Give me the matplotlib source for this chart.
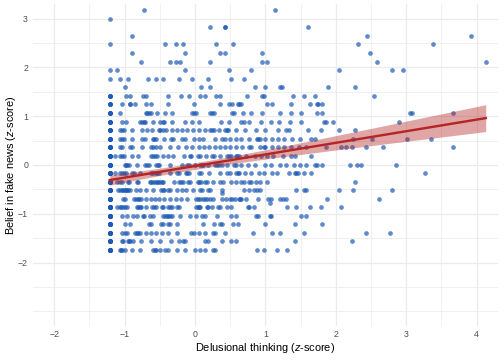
import numpy as np
import matplotlib.pyplot as plt

plt.rcParams['font.family'] = ['Liberation Sans', 'DejaVu Sans']
plt.rcParams['mathtext.fontset'] = 'custom'
plt.rcParams['mathtext.rm'] = 'Liberation Sans'
plt.rcParams['mathtext.it'] = 'Liberation Sans:italic'

# belief in fake news takes discrete z-score levels; x values read per level
levels = [3.17, 2.99, 2.82, 2.64, 2.47, 2.29, 2.12, 1.94, 1.77, 1.59,
          1.42, 1.24, 1.07, 0.89, 0.72, 0.54, 0.36, 0.19, 0.01, -0.16,
          -0.34, -0.51, -0.69, -0.86, -1.04, -1.21, -1.39, -1.56, -1.74]

delusion_by_level = [
    [-0.72, 1.14],
    [-1.21],
    [0.22, 0.43, 0.43, 1.60],
    [-0.90, 2.44, 3.92],
    [-1.21, -0.43, -0.27, -0.17, 0.30, 0.54, 2.31, 3.38],
    [-0.90, -0.14, 0.35, 0.43, 0.95, 2.49],
    [-0.77, -0.36, -0.27, -0.21, 0.22, 0.95, 1.03, 2.59, 4.13],
    [-1.21, -1.11, -0.14, 0.48, 0.80, 2.05, 2.80, 2.96],
    [-1.21, -1.06, -0.95, -0.67, -0.56, -0.46, -0.22, -0.04, 0.19, 0.51, 0.69],
    [-1.00, 0.09, 0.22, 0.85, 1.00, 1.21, 1.24, 1.89, 2.28],
    [-1.21, -1.21, -0.98, -0.92, -0.74, -0.69, -0.38, -0.20, -0.09, 0.07,
     0.14, 0.30, 0.35, 0.74, 0.95, 0.98, 1.39, 1.55, 1.70, 2.54],
    [-1.21, -1.21, -1.03, -0.92, -0.92, -0.85, -0.70, -0.62, -0.38, -0.01,
     0.36, 0.49, 0.53, 0.61, 0.63, 0.66, 1.03, 1.10, 1.36, 1.63, 1.73, 1.75, 1.81],
    [-1.21, -1.21, -1.06, -0.70, -0.68, -0.65, -0.63, -0.54, -0.43, -0.33,
     -0.04, -0.01, 0.01, 0.21, 0.24, 0.27, 0.53, 0.56, 0.68, 0.80, 0.95,
     1.21, 1.36, 1.50, 1.73, 1.81, 3.06, 3.08, 3.66],
    [-1.21, -1.21, -1.03, -0.98, -0.78, -0.75, -0.73, -0.71, -0.59, -0.49,
     -0.46, -0.44, -0.33, -0.14, -0.04, 0.06, 0.37, 0.48, 0.66, 0.69, 0.77,
     0.94, 1.08, 1.20, 1.35, 1.51, 1.83, 1.86, 1.96, 2.90],
    [-1.21, -1.21, -1.06, -1.03, -1.01, -0.90, -0.75, -0.68, -0.61, -0.51,
     -0.49, -0.46, -0.41, -0.33, -0.26, -0.18, -0.11, -0.03, 0.06, 0.14,
     0.22, 0.24, 0.27, 0.34, 0.42, 0.45, 0.47, 0.59, 0.71, 0.87, 0.99, 1.18,
     1.30, 1.33, 1.60, 1.79, 2.04, 2.28],
    [-1.21, -1.21, -1.06, -1.03, -1.01, -0.90, -0.75, -0.71, -0.60, -0.58,
     -0.55, -0.44, -0.34, -0.31, -0.19, -0.14, -0.02, 0.06, 0.12, 0.29, 0.39,
     0.42, 0.50, 0.58, 0.65, 0.77, 0.88, 0.90, 0.93, 1.00, 1.10, 1.18, 1.26,
     1.38, 1.49, 1.65, 1.70, 2.25, 2.51, 3.01, 3.35],
    [-1.21, -1.21, -1.06, -1.03, -0.92, -0.90, -0.75, -0.62, -0.59, -0.56,
     -0.49, -0.36, -0.24, -0.13, -0.04, 0.06, 0.13, 0.20, 0.29, 0.36, 0.43,
     0.50, 0.59, 0.67, 0.77, 0.79, 0.92, 0.98, 1.00, 1.09, 1.18, 1.27, 1.37,
     1.48, 1.58, 1.86, 2.07, 2.15, 2.23, 2.43, 2.67, 3.66],
    [-1.21, -1.21, -1.14, -1.06, -1.03, -1.01, -0.90, -0.81, -0.62, -0.60,
     -0.57, -0.54, -0.46, -0.38, -0.31, -0.15, -0.07, -0.05, 0.05, 0.07,
     0.15, 0.24, 0.27, 0.36, 0.46, 0.48, 0.51, 0.58, 0.60, 0.63, 0.73, 0.85,
     0.94, 1.02, 1.11, 1.25, 1.36, 1.42, 1.65],
    [-1.21, -1.21, -1.00, -0.98, -0.96, -0.93, -0.83, -0.71, -0.68, -0.65,
     -0.55, -0.53, -0.51, -0.36, -0.19, -0.11, -0.08, 0.00, 0.07, 0.10, 0.12,
     0.19, 0.29, 0.31, 0.34, 0.39, 0.46, 0.56, 0.59, 0.66, 0.75, 0.86, 0.99,
     1.08, 1.21, 1.30, 1.41, 1.49, 1.58, 1.70, 1.73, 1.81, 2.20, 2.30, 2.36, 2.85],
    [-1.21, -1.21, -1.14, -1.06, -1.03, -1.01, -0.98, -0.89, -0.87, -0.78,
     -0.62, -0.59, -0.56, -0.54, -0.51, -0.35, -0.25, -0.22, -0.13, -0.11,
     -0.08, 0.06, 0.09, 0.20, 0.35, 0.45, 0.50, 0.58, 0.61, 0.63, 0.71, 0.80,
     0.91, 0.98, 1.10, 1.17, 1.34, 1.42, 1.44, 1.47, 1.55, 1.65, 3.27],
    [-1.21, -1.21, -1.11, -1.06, -1.03, -0.95, -0.93, -0.83, -0.81, -0.64,
     -0.62, -0.59, -0.57, -0.54, -0.52, -0.49, -0.47, -0.45, -0.30, -0.22,
     -0.20, -0.17, -0.10, -0.07, 0.04, 0.06, 0.09, 0.14, 0.17, 0.25, 0.36,
     0.40, 0.51, 0.58, 0.66, 0.69, 0.77, 0.79, 0.87, 0.92, 1.03, 2.28],
    [-1.21, -1.21, -1.09, -1.07, -1.04, -1.02, -1.00, -0.98, -0.97, -0.95,
     -0.92, -0.84, -0.78, -0.70, -0.59, -0.48, -0.46, -0.44, -0.38, -0.36,
     -0.26, -0.19, -0.12, -0.03, 0.07, 0.10, 0.19, 0.21, 0.38, 0.69, 0.77,
     0.84, 0.88, 0.92, 1.44, 1.55, 1.58, 2.04, 2.25, 2.80],
    [-1.21, -1.21, -1.02, -0.99, -0.86, -0.84, -0.81, -0.79, -0.77, -0.69,
     -0.63, -0.57, -0.51, -0.44, -0.36, -0.27, -0.20, -0.11, 0.01, 0.05,
     0.07, 0.11, 0.14, 0.17, 0.21, 0.25, 0.38, 0.44, 0.50, 0.53, 0.57, 0.62,
     0.64, 0.66, 0.73, 0.90, 1.04, 1.08, 1.21, 1.25, 1.29, 1.88, 2.62],
    [-1.21, -1.21, -1.11, -1.07, -1.05, -1.02, -1.00, -0.97, -0.83, -0.81,
     -0.78, -0.76, -0.69, -0.61, -0.58, -0.56, -0.47, -0.45, -0.38, -0.36,
     -0.33, -0.25, -0.22, 0.01, 0.04, 0.06, 0.07, 0.17, 0.19, 0.24, 0.33,
     0.36, 0.45, 0.51, 0.75, 0.77, 0.84, 1.31, 1.44, 1.63, 1.79, 2.07],
    [-1.21, -1.21, -1.03, -0.97, -0.88, -0.83, -0.74, -0.72, -0.64, -0.59,
     -0.45, -0.43, -0.40, -0.38, -0.36, -0.33, -0.21, -0.07, 0.02, 0.10,
     0.14, 0.32, 0.51, 0.58, 0.87, 0.90, 1.06, 1.08, 1.50, 1.58],
    [-1.21, -1.21, -1.00, -0.92, -0.65, -0.62, -0.48, -0.46, -0.38, -0.36,
     -0.26, 0.12, 0.27, 0.36, 0.38, 0.54, 0.61, 1.00, 1.42, 1.81],
    [-1.21, -1.21, -1.03, -1.00, -0.97, -0.85, -0.83, -0.81, -0.78, -0.70,
     -0.62, -0.55, -0.47, -0.38, -0.26, -0.06, -0.02, 0.06, 0.14, 0.25, 0.29,
     0.43, 0.82, 1.10, 1.21, 1.55, 2.43, 2.77],
    [-1.21, -1.21, -1.04, -1.02, -0.95, -0.93, -0.92, -0.88, -0.76, -0.62,
     -0.50, -0.34, -0.22, -0.17, -0.14, 0.14, 0.19, 0.38, 0.51, 0.58, 1.42, 2.23],
    [-1.21, -1.21, -1.07, -1.05, -1.03, -1.00, -0.90, -0.78, -0.59, -0.57,
     -0.56, -0.50, -0.43, -0.38, -0.25, -0.14, 0.00, 0.07, 0.14, 0.25, 0.29,
     0.88, 0.98, 1.16, 1.31],
]

# extra respondents stacked on the floor score (-1.21), one count per level
floor_score = -1.21
floor_extra = [0, 0, 0, 0, 0, 0, 0, 0, 0, 0,
               2, 2, 3, 3, 4, 4, 5, 5, 6, 7,
               8, 8, 8, 8, 8, 8, 8, 8, 9]

# a few answers that fall between the usual levels
extra_x = [0.38, 1.06]
extra_y = [-0.58, -0.78]

xs_all, ys_all = [], []
for xs, lv, k in zip(delusion_by_level, levels, floor_extra):
    xs_all += list(xs) + [floor_score] * k
    ys_all += [lv] * (len(xs) + k)
x = np.array(xs_all + extra_x)
y = np.array(ys_all + extra_y)

# linear fit with 95% band (as geom_smooth(method = "lm"))
slope, intercept = np.polyfit(x, y, 1)
n = len(x)
resid = y - (intercept + slope * x)
s = np.sqrt(np.sum(resid ** 2) / (n - 2))
sxx = np.sum((x - x.mean()) ** 2)
xf = np.linspace(x.min(), x.max(), 100)
yf = intercept + slope * xf
se = s * np.sqrt(1 / n + (xf - x.mean()) ** 2 / sxx)

fig = plt.figure(figsize=(7, 5), dpi=72)
ax = fig.add_axes([0.0655, 0.0944, 0.922, 0.8946])

ax.scatter(x, y, s=22, color='#1d5ab5', alpha=0.7, linewidths=0, zorder=2)
ax.fill_between(xf, yf - 1.96 * se, yf + 1.96 * se, color='#b22222',
                alpha=0.4, linewidth=0, zorder=3)
ax.plot(xf, yf, color='#b52525', linewidth=2.4, zorder=4)

ax.set_xlim(-2.3, 4.3)
ax.set_ylim(-3.3, 3.3)
ax.set_xticks([-2, -1, 0, 1, 2, 3, 4])
ax.set_yticks([-2, -1, 0, 1, 2, 3])
ax.set_xticks(np.arange(-1.5, 4.3, 1), minor=True)
ax.set_yticks([-3, -2.5, -1.5, -0.5, 0.5, 1.5, 2.5], minor=True)
ax.grid(which='major', color='#ebebeb', linewidth=1.2)
ax.grid(which='minor', color='#ebebeb', linewidth=0.7)
ax.set_axisbelow(True)
for sp in ax.spines.values():
    sp.set_visible(False)
ax.tick_params(which='both', length=0, labelsize=8.8, labelcolor='#4d4d4d')
ax.tick_params(axis='y', pad=5)
ax.tick_params(axis='x', pad=4)

ax.set_xlabel(r'Delusional thinking ($\mathit{z}$-score)', fontsize=11, labelpad=2)
ax.set_ylabel(r'Belief in fake news ($\mathit{z}$-score)', fontsize=11)
ax.yaxis.set_label_coords(-0.032, 0.5)

fig.savefig('out.png', dpi=72)
